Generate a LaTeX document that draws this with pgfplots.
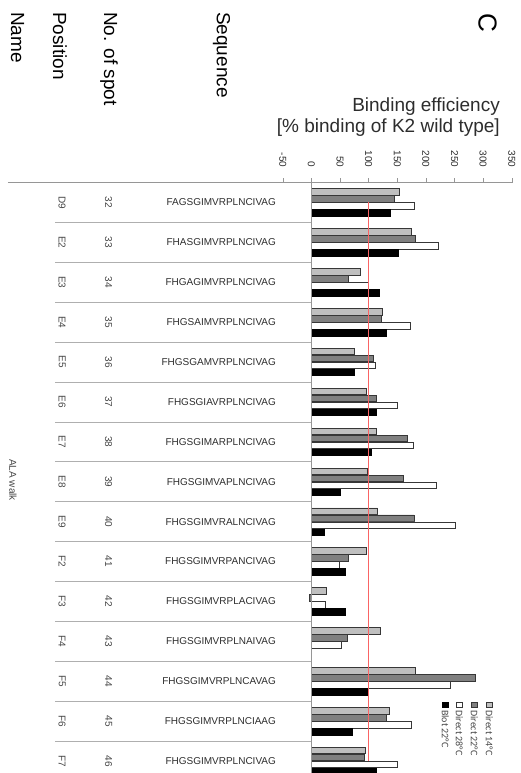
\documentclass[border=0pt]{standalone}
\usepackage{pgfplots}
\pgfplotsset{compat=1.18}
\usepackage{pgfplotstable}
\usepackage{fontspec}
\setmainfont{Liberation Sans}
\newfontfamily\calibri{Carlito}

\definecolor{barlight}{RGB}{191,191,191}
\definecolor{bardark}{RGB}{128,128,128}
\definecolor{baredge}{RGB}{55,55,55}
\definecolor{refline}{RGB}{250,100,100}
\definecolor{sepgray}{RGB}{175,175,175}
\definecolor{axgray}{RGB}{150,150,150}
\definecolor{txt}{RGB}{45,45,45}
\definecolor{lbl}{RGB}{70,70,70}

% Alanine walk peptides: binding efficiency in % of K2 wild type
\pgfplotstableread{
row d14 d22 d28 blot pos spot seq
0   153 145 179 137 D9 32 FAGSGIMVRPLNCIVAG
-1  174 182 221 152 E2 33 FHASGIMVRPLNCIVAG
-2  86  65  99  119 E3 34 FHGAGIMVRPLNCIVAG
-3  124 122 172 130 E4 35 FHGSAIMVRPLNCIVAG
-4  75  109 111 75  E5 36 FHGSGAMVRPLNCIVAG
-5  96  113 150 114 E6 37 FHGSGIAVRPLNCIVAG
-6  114 167 178 104 E7 38 FHGSGIMARPLNCIVAG
-7  97  160 218 50  E8 39 FHGSGIMVAPLNCIVAG
-8  115 179 252 23  E9 40 FHGSGIMVRALNCIVAG
-9  96  64  48  60  F2 41 FHGSGIMVRPANCIVAG
-10 26  -4  24  60  F3 42 FHGSGIMVRPLACIVAG
-11 120 62  52  0   F4 43 FHGSGIMVRPLNAIVAG
-12 182 287 242 97  F5 44 FHGSGIMVRPLNCAVAG
-13 136 131 174 72  F6 45 FHGSGIMVRPLNCIAAG
-14 95  92  150 114 F7 46 FHGSGIMVRPLNCIVAG
}\alawalk

\begin{document}
\begin{tikzpicture}
\path[use as bounding box] (0pt,0pt) rectangle (520pt,-773pt);

\begin{axis}[
  at={(8pt,-182.5pt)}, anchor=north west,
  scale only axis, width=503.8pt, height=598.5pt,
  xmin=-530, xmax=350, ymin=-14.5, ymax=0.5,
  axis x line*=top, axis y line=none,
  x axis line style={axgray, line width=0.8pt},
  xtick={-50,0,...,350}, ytick=\empty,
  tick style={axgray, line width=0.6pt},
  major tick length=4pt, xtick align=outside,
  xticklabel style={rotate=-90, anchor=east, inner sep=0pt,
    font=\fontsize{10}{12}\selectfont, text=txt},
  xticklabel shift=11pt,
  /pgf/number format/assume math mode=true,
  clip=false,
  bar width=6.5pt,
]
% row separators of the label table
\pgfplotsinvokeforeach{0,...,13}{
  \draw[sepgray, line width=0.8pt] (axis cs:-447.7,{-#1-0.5}) -- (axis cs:0,{-#1-0.5});
}

\addplot[xbar, bar shift=10.5pt, fill=barlight, draw=baredge, line width=0.7pt]
  table[x=d14, y=row]{\alawalk};
\addplot[xbar, bar shift=3.5pt, fill=bardark, draw=baredge, line width=0.7pt]
  table[x=d22, y=row]{\alawalk};
\addplot[xbar, bar shift=-3.5pt, fill=white, draw=baredge, line width=0.7pt]
  table[x=d28, y=row]{\alawalk};
\addplot[xbar, bar shift=-10.5pt, fill=black, draw=black, line width=0.7pt]
  table[x=blot, y=row]{\alawalk};

% category axis at zero
\draw[axgray, line width=0.8pt] (axis cs:0,0.5) -- (axis cs:0,-14.5);

% 100 % reference (K2 wild type)
\addplot[refline, line width=1.6pt] coordinates {(100,0) (100,-14)};

% label columns
\addplot[draw=none, mark=none, nodes near coords, point meta=explicit symbolic,
  nodes near coords style={anchor=east, inner sep=0pt,
    font=\fontsize{10}{12}\selectfont, text=txt}]
  table[x expr=-61.7, y=row, meta=seq]{\alawalk};
\addplot[draw=none, mark=none, nodes near coords, point meta=explicit symbolic,
  nodes near coords style={anchor=center, rotate=-90, inner sep=0pt,
    font=\fontsize{10}{12}\selectfont, text=lbl}]
  table[x expr=-354.2, y=row, meta=spot]{\alawalk};
\addplot[draw=none, mark=none, nodes near coords, point meta=explicit symbolic,
  nodes near coords style={anchor=center, rotate=-90, inner sep=0pt,
    font=\fontsize{10}{12}\selectfont, text=lbl}]
  table[x expr=-435.4, y=row, meta=pos]{\alawalk};
\end{axis}

% column headings
\begin{scope}[every node/.style={rotate=-90, anchor=west, inner sep=0pt,
    font=\fontsize{19}{21}\selectfont, text=black}]
  \node at (17.5pt,-12pt) {Name};
  \node at (60pt,-12pt) {Position};
  \node at (109pt,-12pt) {No. of spot};
  \node at (221.5pt,-12pt) {Sequence};
\end{scope}
\node[rotate=-90, inner sep=0pt, font=\fontsize{26}{28}\selectfont] at (487.5pt,-23pt) {C};
\node[rotate=-90, inner sep=0pt, font=\fontsize{10}{12}\selectfont, text=lbl] at (13pt,-480pt) {ALA walk};

% value axis title
\node[anchor=base east, inner sep=0pt, font=\fontsize{19}{21}\selectfont, text=txt]
  at (500pt,-111.7pt) {Binding efficiency};
\node[anchor=base east, inner sep=0pt, font=\fontsize{19}{21}\selectfont, text=txt]
  at (500pt,-132.7pt) {[\% binding of K2 wild type]};

% legend
\begin{scope}[font=\calibri\fontsize{10}{12}\selectfont]
  \foreach \xx/\fc/\dc/\name in {489.2/barlight/baredge/Direct 14°C,
                                 474.2/bardark/baredge/Direct 22°C,
                                 459.2/white/baredge/Direct 28°C,
                                 445.2/black/black/Blot 22°C}{
    \filldraw[fill=\fc, draw=\dc, line width=0.6pt]
      (\xx pt-2.7pt,-702pt) rectangle (\xx pt+2.7pt,-707.4pt);
    \node[rotate=-90, anchor=west, inner sep=0pt, text=lbl] at (\xx pt,-710pt) {\name};
  }
\end{scope}
\end{tikzpicture}
\end{document}
